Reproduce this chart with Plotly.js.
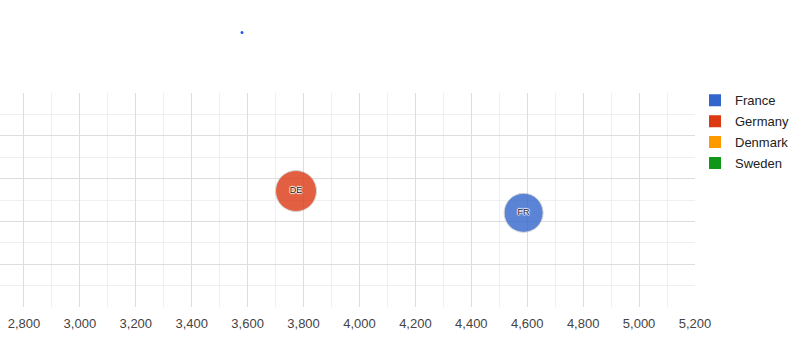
<!DOCTYPE html>
<html>
<head>
<meta charset="utf-8">
<script src="https://cdn.plot.ly/plotly-3.0.1.min.js"></script>
<style>html,body{margin:0;padding:0;background:#fff}#chart{width:801px;height:363px}</style>
</head>
<body>
<div id="chart"></div>
<script>
// Data
const countries = ["France", "Germany", "Denmark", "Sweden"];
const codes = ["FR", "DE", null, null];
const xValues = [4587, 3773, null, null];
const yValues = [2.20, 2.71, null, null];
const sizeValues = [78, 82, null, null];
const colors = ["#3366cc", "#dc3912", "#ff9900", "#109618"];
const xTicks = [2800, 3000, 3200, 3400, 3600, 3800, 4000, 4200, 4400, 4600, 4800, 5000, 5200];

const traces = [];
countries.forEach((c, i) => {
  if (xValues[i] !== null) {
    traces.push({
      type: "scatter", mode: "markers+text",
      x: [xValues[i]], y: [yValues[i]], text: [codes[i]],
      textposition: "middle center",
      textfont: {family: "Liberation Sans, Arial", size: 9, color: "#222",
                 shadow: "1px 0px 1px #fff, -1px 0px 1px #fff, 0px 1px 1px #fff, 0px -1px 1px #fff"},
      marker: {size: [sizeValues[i]], sizeref: 2, sizemode: "diameter", color: colors[i], opacity: 0.8,
               line: {color: "#cccccc", width: 1}},
      showlegend: false, hoverinfo: "skip", cliponaxis: false
    });
  }
});
countries.forEach((c, i) => {
  traces.push({
    type: "scatter", mode: "markers", name: c, legendgroup: "g" + i,
    x: [null], y: [null],
    marker: {symbol: "square", size: 13, color: colors[i]},
    showlegend: true
  });
});

const layout = {
  width: 801, height: 363,
  margin: {l: 0, r: 106, t: 93, b: 56, pad: 0},
  paper_bgcolor: "#fff", plot_bgcolor: "#fff",
  font: {family: "Liberation Sans, Arial", size: 13, color: "#444"},
  xaxis: {
    range: [2714.3, 5200], tickvals: xTicks, tickformat: ",d",
    showgrid: true, gridcolor: "#dddddd", gridwidth: 1,
    minor: {dtick: 100, tick0: 2700, showgrid: true, gridcolor: "#efefef"},
    zeroline: false, showline: false, ticks: "", fixedrange: true,
    ticklabelstandoff: 7,
    tickfont: {size: 13, color: "#444"}
  },
  yaxis: {
    range: [0, 5], dtick: 1, showticklabels: false,
    showgrid: true, gridcolor: "#dddddd",
    minor: {dtick: 0.5, showgrid: true, gridcolor: "#efefef"},
    zeroline: false, showline: false, ticks: ""
  },
  legend: {
    x: 1.0, xanchor: "left", y: 1.036, yanchor: "top",
    font: {size: 13, color: "#222"}, itemsizing: "constant",
    bgcolor: "rgba(0,0,0,0)", borderwidth: 0, tracegroupgap: 1
  },
  shapes: [{type: "circle", xref: "paper", yref: "paper",
            x0: 240.5/695, x1: 243.5/695, y0: (306.7-34.5)/213.4, y1: (306.7-31.5)/213.4,
            fillcolor: "#1a5ae8", line: {width: 0}}],
  showlegend: true
};

Plotly.newPlot("chart", traces, layout, {staticPlot: true, displayModeBar: false});
</script>
</body>
</html>
